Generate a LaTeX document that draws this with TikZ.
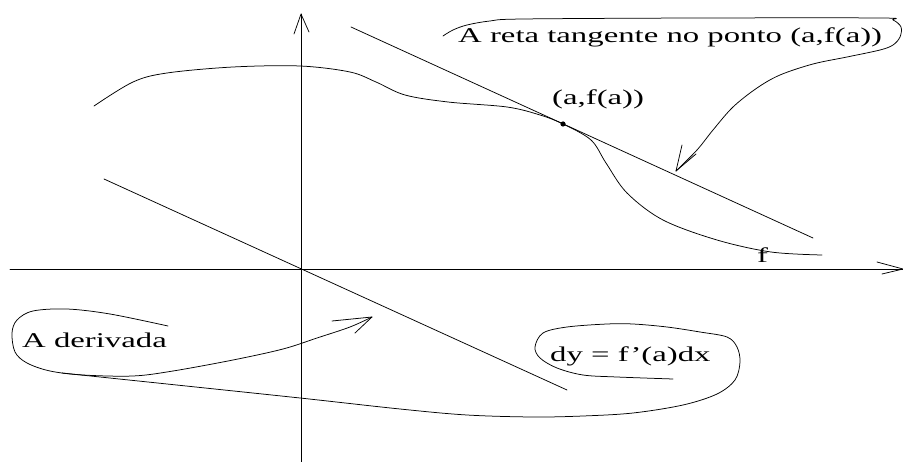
\documentclass[tikz,border=0pt]{standalone}
\usepackage{fontspec}
\newfontfamily\figfont[FakeStretch=1.56]{Liberation Serif}
\begin{document}
\begin{tikzpicture}[x=1pt,y=-1pt,
  ln/.style={line width=0.75pt,line join=round,line cap=round},
  lbl/.style={inner sep=0pt,anchor=base west,font=\figfont\fontsize{21}{25}\selectfont}]
\useasboundingbox (0,0) rectangle (903,462);
% axes
\coordinate (xs) at (10,269); \coordinate (xe) at (903,269);
\coordinate (ys) at (301,462); \coordinate (ye) at (301,14);
\draw[ln] (xs) -- (xe);
\draw[ln] (877,262) -- (xe) -- (882,274);
\draw[ln] (ys) -- (ye);
\draw[ln] (294,34) -- (ye) -- (309,32);
% tangent line and parallel line through origin
\coordinate (P) at (563,124);
\draw[ln] (351,27) -- (813,238);
\draw[ln] (104,179) -- (567,390);
% function f
\draw[ln] plot[smooth,tension=0.55] coordinates {(94,106) (133,82) (167,73) (233,67) (300,66) (350,72) (376,82) (405,95) (448,102) (507,107) (540,115) (563,124) (591,140) (606,163) (627,193) (663,220) (717,240) (771,252) (822,255)};
\fill (P) circle (2.6);
% labels
\node[lbl] (tt) at (458,43) {A reta tangente no ponto (a,f(a))};
\node[lbl] (pa) at (552,105) {(a,f(a))};
\node[lbl] (fl) at (757,263) {f};
\node[lbl] (der) at (22,348) {A derivada};
\node[lbl] (dy) at (550,362) {dy = f’(a)dx};
% top callout with arrow
\coordinate (t1) at (676,171);
\draw[ln] plot[smooth,tension=0.55] coordinates {(443,36) (453,30) (467,25) (490,21) (523,19) (700,18) (880,18) (893,20) (901,27) (900,37) (893,45) (880,50) (847,57) (813,64) (780,75) (757,88) (733,107) (713,130) (697,150) (676,171)};
\draw[ln] (682,145) -- (t1) -- (696,154);
% "A derivada" loop with arrow
\coordinate (t2) at (372,317);
\draw[ln] plot[smooth,tension=0.55] coordinates {(168,326) (110,314) (67,309) (33,311) (17,320) (12,333) (15,352) (27,363) (50,371) (83,375) (133,376) (173,371) (233,360) (283,349) (317,338) (350,327) (372,317)};
\draw[ln] (332,321) -- (t2) -- (355,333);
% long bubble around dy
\draw[ln] plot[smooth,tension=0.55] coordinates {(62,373) (100,377) (167,384) (300,398) (400,409) (467,415) (533,417) (583,416) (633,413) (683,405) (717,394) (735,380) (740,362) (737,347) (727,337) (700,332) (667,327) (633,324) (607,324) (567,327) (543,333) (535,347) (540,358) (557,368) (583,375) (617,377) (673,379)};
\end{tikzpicture}
\end{document}
